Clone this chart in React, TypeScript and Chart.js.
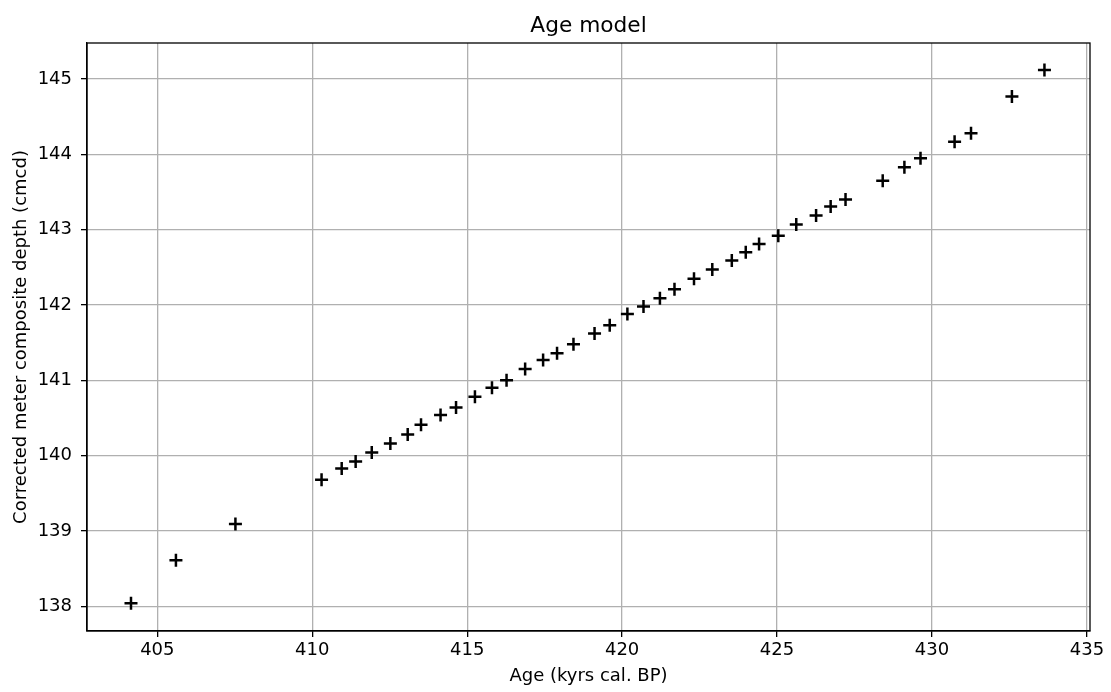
import React, { useEffect, useRef } from "react";
import { Chart, registerables } from "chart.js";

Chart.register(...registerables);

const chartTitle = "Age model";
const xAxisTitle = "Age (kyrs cal. BP)";
const yAxisTitle = "Corrected meter composite depth (cmcd)";

const ages = [
  404.15, 405.6, 407.52, 410.3, 410.95, 411.4, 411.92, 412.52, 413.08, 413.51,
  414.14, 414.64, 415.25, 415.8, 416.27, 416.87, 417.45, 417.9, 418.43, 419.11,
  419.6, 420.17, 420.69, 421.22, 421.69, 422.32, 422.91, 423.54, 423.99, 424.42,
  425.04, 425.62, 426.26, 426.73, 427.21, 428.41, 429.11, 429.63, 430.73, 431.26,
  432.58, 433.63,
];
const depths = [
  138.04, 138.61, 139.09, 139.68, 139.83, 139.92, 140.04, 140.16, 140.28, 140.41,
  140.54, 140.64, 140.78, 140.9, 141.0, 141.15, 141.27, 141.36, 141.48, 141.62,
  141.73, 141.88, 141.98, 142.09, 142.21, 142.35, 142.47, 142.59, 142.7, 142.81,
  142.92, 143.07, 143.19, 143.31, 143.4, 143.65, 143.83, 143.95, 144.17, 144.28,
  144.77, 145.12,
];

const xRange = [402.73, 435.1];
const yRange = [137.67, 145.48];
const xTickStep = 5;
const yTickStep = 1;

const FONT = '"DejaVu Sans", sans-serif';

const framePlugin = {
  id: "frameAndTitle",
  afterDraw(chart: any) {
    const { ctx, chartArea } = chart;
    const { left, right, top, bottom } = chartArea;
    ctx.save();
    ctx.strokeStyle = "#000";
    ctx.lineWidth = 1.3;
    ctx.strokeRect(left, top, right - left, bottom - top);
    ctx.fillStyle = "#000";
    ctx.font = `21.7px ${FONT}`;
    ctx.textAlign = "center";
    ctx.textBaseline = "alphabetic";
    ctx.fillText(chartTitle, (left + right) / 2, 31.7);
    ctx.restore();
  },
};

export default function App() {
  const canvasRef = useRef<HTMLCanvasElement | null>(null);

  useEffect(() => {
    if (!canvasRef.current) return;
    const points = ages.map((a, i) => ({ x: a, y: depths[i] }));
    const chart = new Chart(canvasRef.current, {
      type: "scatter",
      data: {
        datasets: [
          {
            label: "Age model",
            data: points,
            pointStyle: "cross",
            pointRadius: 6.5,
            pointHoverRadius: 6.5,
            pointBorderWidth: 2.5,
            borderColor: "#000",
            backgroundColor: "#000",
          },
        ],
      },
      options: {
        animation: false,
        responsive: false,
        devicePixelRatio: 1,
        layout: { padding: { top: 43, right: 21, bottom: 0, left: 0 } },
        plugins: {
          legend: { display: false },
          title: { display: false },
          tooltip: { enabled: false },
        },
        scales: {
          x: {
            type: "linear",
            min: xRange[0],
            max: xRange[1],
            afterFit: (s: any) => {
              s.height = 61;
            },
            ticks: {
              stepSize: xTickStep,
              includeBounds: false,
              color: "#000",
              padding: 3,
              maxRotation: 0,
              autoSkip: false,
              font: { family: FONT, size: 18 },
            },
            grid: {
              color: "#b0b0b0",
              lineWidth: 1.3,
              tickColor: "#000",
              tickLength: 6,
              tickWidth: 1.3,
            },
            border: { display: true, color: "#000", width: 1.3 },
            title: {
              display: true,
              text: xAxisTitle,
              color: "#000",
              font: { family: FONT, size: 18 },
              padding: { top: 0, bottom: 4.9 },
            },
          },
          y: {
            type: "linear",
            min: yRange[0],
            max: yRange[1],
            afterFit: (s: any) => {
              s.width = 87;
            },
            ticks: {
              stepSize: yTickStep,
              includeBounds: false,
              color: "#000",
              padding: 9,
              autoSkip: false,
              font: { family: FONT, size: 18 },
            },
            grid: {
              color: "#b0b0b0",
              lineWidth: 1.3,
              tickColor: "#000",
              tickLength: 6,
              tickWidth: 1.3,
            },
            border: { display: true, color: "#000", width: 1.3 },
            title: {
              display: true,
              text: yAxisTitle,
              color: "#000",
              font: { family: FONT, size: 18 },
              padding: { top: 10.5, bottom: 0 },
            },
          },
        },
      },
      plugins: [framePlugin],
    });
    return () => chart.destroy();
  }, []);

  return (
    <div style={{ position: "fixed", left: 0, top: 0, width: 1111, height: 692, background: "#fff" }}>
      <canvas ref={canvasRef} width={1111} height={692} style={{ width: 1111, height: 692 }} />
    </div>
  );
}
